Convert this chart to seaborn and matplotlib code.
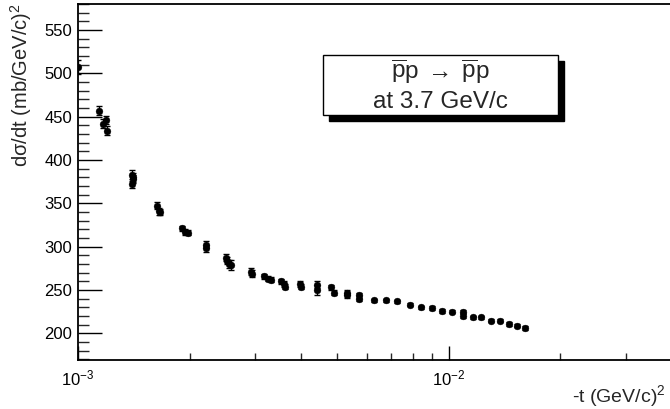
import matplotlib
matplotlib.use("Agg")
import matplotlib.pyplot as plt
from matplotlib.patches import Rectangle
from matplotlib.ticker import FixedLocator, NullFormatter, FixedFormatter
import numpy as np
import pandas as pd
import seaborn as sns

# -t in (GeV/c)^2, dsigma/dt in mb/(GeV/c)^2 and its uncertainty
t_vals = [1.00e-3, 1.14e-3, 1.166e-3, 1.188e-3, 1.195e-3,
          1.400e-3, 1.405e-3, 1.410e-3, 1.395e-3,
          1.632e-3, 1.655e-3, 1.665e-3,
          1.913e-3, 1.943e-3, 1.975e-3,
          2.210e-3, 2.220e-3,
          2.507e-3, 2.530e-3, 2.550e-3, 2.590e-3,
          2.930e-3, 2.950e-3,
          3.180e-3, 3.250e-3, 3.310e-3,
          3.530e-3, 3.600e-3, 3.620e-3,
          3.960e-3, 4.000e-3,
          4.410e-3, 4.420e-3,
          4.820e-3, 4.900e-3,
          5.300e-3, 5.310e-3,
          5.710e-3, 5.720e-3,
          6.280e-3, 6.790e-3, 7.250e-3, 7.860e-3, 8.420e-3,
          9.020e-3, 9.610e-3, 1.017e-2, 1.090e-2, 1.092e-2,
          1.160e-2, 1.220e-2, 1.300e-2, 1.370e-2, 1.450e-2,
          1.530e-2, 1.600e-2]
dsdt_vals = [507, 457, 442, 446, 434,
             383, 380, 378, 372,
             347, 341, 340,
             321, 317, 316,
             302, 298,
             287, 284, 280, 279,
             271, 269,
             266, 263, 262,
             260, 257, 254,
             257, 254,
             256, 250,
             253, 247,
             247, 244,
             244, 240,
             238, 238, 237, 233, 230,
             229, 226, 225, 225, 220,
             218.5, 218.5, 214.5, 214.5, 211,
             209, 206]
err_vals = [8, 5, 5, 5, 5,
            5, 5, 5, 4,
            4, 4, 4,
            3, 3, 3,
            4, 4,
            4, 4, 5, 6,
            4, 4,
            3, 3, 3,
            3, 3, 3,
            3, 3,
            4, 6,
            3, 3,
            3, 3,
            3, 3,
            2, 2, 2, 2, 2,
            2, 2, 2, 2, 2,
            2, 2, 2, 2, 2,
            2, 2]

x_range = (1.0e-3, 10 ** (-3 + 592 / 370))
y_range = (169.2, 580.0)
y_major = [200, 250, 300, 350, 400, 450, 500, 550]

df = pd.DataFrame({"t": t_vals, "dsdt": dsdt_vals, "err": err_vals})

sns.set_style("ticks")
plt.rcParams["font.family"] = ["Liberation Sans", "DejaVu Sans"]
plt.rcParams["mathtext.fontset"] = "custom"
plt.rcParams["mathtext.rm"] = "Liberation Sans"
plt.rcParams["mathtext.it"] = "Liberation Sans:italic"
plt.rcParams["mathtext.bf"] = "Liberation Sans:bold"

fig = plt.figure(figsize=(6.7, 4.09), dpi=100)
ax = fig.add_axes([78 / 670, 1 - 360 / 409, 1 - 78 / 670 + 0.002, (360 - 4) / 409])

ax.errorbar(df["t"], df["dsdt"], yerr=df["err"], fmt="none", ecolor="black",
            elinewidth=1.0, capsize=2.5, capthick=1.0, zorder=2, clip_on=True)
sns.scatterplot(data=df, x="t", y="dsdt", ax=ax, color="black", s=24,
                edgecolor="black", linewidth=0.3, zorder=3, legend=False)

ax.set_xscale("log")
ax.set_xlim(*x_range)
ax.set_ylim(*y_range)

# x axis: decades plus the usual log minor ticks
ax.xaxis.set_major_locator(FixedLocator([1e-3, 1e-2]))
ax.xaxis.set_major_formatter(FixedFormatter([r"$10^{-3}$", r"$10^{-2}$"]))
minor_x = [k * 1e-3 for k in range(2, 10)] + [2e-2, 3e-2]
ax.xaxis.set_minor_locator(FixedLocator(minor_x))
ax.xaxis.set_minor_formatter(NullFormatter())

ax.yaxis.set_major_locator(FixedLocator(y_major))
ax.yaxis.set_minor_locator(FixedLocator(list(range(170, 581, 10))))
ax.yaxis.set_minor_formatter(NullFormatter())

ax.tick_params(axis="y", which="major", direction="in", length=17, width=1.0,
               labelsize=12, pad=4, colors="black")
ax.tick_params(axis="y", which="minor", direction="in", length=8, width=1.0)
ax.tick_params(axis="x", which="major", direction="in", length=10, width=1.0,
               labelsize=12, pad=6, colors="black")
ax.tick_params(axis="x", which="minor", direction="in", length=5, width=1.0)

for side in ["left", "bottom", "top"]:
    ax.spines[side].set_linewidth(1.3)
    ax.spines[side].set_color("black")
ax.spines["right"].set_visible(False)

ax.set_xlabel("")
ax.set_ylabel("")
fig.text(666 / 670, 1 - 402 / 409, r"-t (GeV/c)$^{2}$", ha="right", va="baseline",
         fontsize=14)
fig.text(21 / 670, 1 - 3 / 409, r"dσ/dt (mb/GeV/c)$^{2}$", ha="center",
         va="top", rotation=90, fontsize=14.5)

# title pave with drop shadow
bx0, bx1, by0, by1 = 323, 558, 55, 115
sh = 6
fig.patches.append(Rectangle(((bx0 + sh) / 670, 1 - (by1 + sh) / 409),
                             (bx1 - bx0) / 670, (by1 - by0) / 409,
                             transform=fig.transFigure, facecolor="black",
                             edgecolor="black", zorder=5))
fig.patches.append(Rectangle((bx0 / 670, 1 - by1 / 409),
                             (bx1 - bx0) / 670, (by1 - by0) / 409,
                             transform=fig.transFigure, facecolor="white",
                             edgecolor="black", linewidth=1.0, zorder=6))
cx = (bx0 + bx1) / 2 / 670
fig.text(cx, 1 - 72 / 409,
         r"$\overline{\mathrm{p}}\mathrm{p}\;\rightarrow\;\overline{\mathrm{p}}\mathrm{p}$",
         ha="center", va="center", fontsize=17.5, zorder=7)
fig.text(cx, 1 - 102 / 409, "at 3.7 GeV/c", ha="center", va="center",
         fontsize=17.5, zorder=7)

fig.savefig("out.png", dpi=100)
